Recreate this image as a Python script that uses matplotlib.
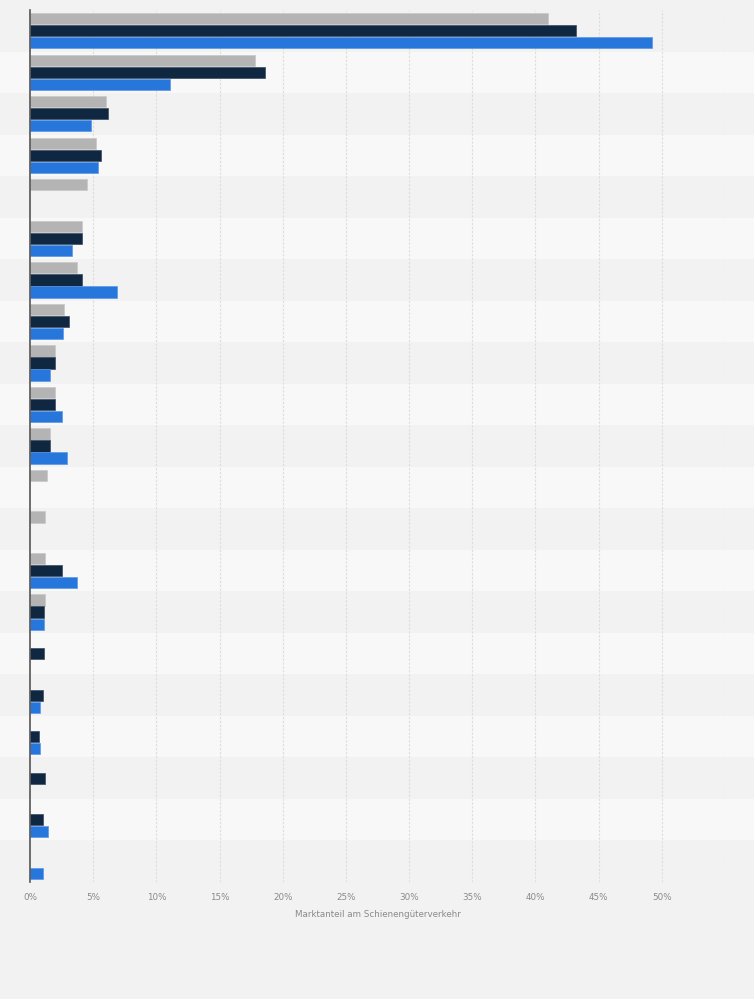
import matplotlib.pyplot as plt
import numpy as np
from matplotlib.patches import Rectangle
from matplotlib.transforms import blended_transform_factory

# Zeilen (keine Beschriftung im Original sichtbar)
rows = list(range(1, 22))

# Marktanteil in %, drei Reihen (nan = kein Wert)
nan = np.nan
series_gray = [41.0, 17.8, 6.05, 5.2, 4.55, 4.1, 3.7, 2.7, 2.0, 2.0, 1.6,
               1.35, 1.2, 1.2, 1.2, nan, nan, nan, nan, nan, nan]
series_navy = [43.2, 18.6, 6.15, 5.6, nan, 4.15, 4.15, 3.1, 2.0, 1.95, 1.6,
               nan, nan, 2.5, 1.1, 1.1, 1.0, 0.75, 1.2, 1.0, nan]
series_blue = [49.2, 11.05, 4.8, 5.4, nan, 3.35, 6.85, 2.65, 1.6, 2.55, 2.95,
               nan, nan, 3.7, 1.1, nan, 0.8, 0.8, nan, 1.45, 1.05]

xticks = list(range(0, 51, 5))
xticklabels = [f"{t}%" for t in xticks]

bg = "#f2f2f2"
fig = plt.figure(figsize=(7.54, 9.99), dpi=100, facecolor=bg)
ax = fig.add_axes([30 / 754, 1 - 882 / 999, 695 / 754, 872 / 999])
ax.set_facecolor("none")

# abwechselnde Zeilenbänder über die ganze Breite
trans = blended_transform_factory(fig.transFigure, ax.transData)
for i in range(len(rows)):
    if i % 2 == 1:
        ax.add_patch(Rectangle((0, i - 0.5), 1, 1, transform=trans,
                               facecolor="#f8f8f8", edgecolor="none",
                               clip_on=False, zorder=0))

y = np.arange(len(rows))
h = 0.27
off = 0.29
ax.barh(y - off, series_gray, height=h, color="#b4b4b4", edgecolor="#c8c8c8", linewidth=0.5, zorder=3)
ax.barh(y, series_navy, height=h, color="#0f2741", edgecolor="#3a4c60", linewidth=0.5, zorder=3)
ax.barh(y + off, series_blue, height=h, color="#2776db", edgecolor="#5a97e6", linewidth=0.5, zorder=3)

ax.set_xlim(0, 55)
ax.set_ylim(len(rows) - 0.5, -0.5)
ax.set_xticks(xticks)
ax.set_xticklabels(xticklabels, fontsize=6.3, color="#8a8a8a")
ax.set_yticks([])
ax.tick_params(axis="x", length=0, pad=8)

for t in xticks[1:] + [55]:
    ax.axvline(t, color="#dddddd", linestyle=(0, (2, 1.5)), linewidth=0.8, zorder=1)

for s in ["top", "right", "bottom"]:
    ax.spines[s].set_visible(False)
ax.spines["left"].set_color("#555555")
ax.spines["left"].set_linewidth(1.2)
ax.spines["left"].set_zorder(4)

ax.set_xlabel("Marktanteil am Schienengüterverkehr", fontsize=6.3, color="#8a8a8a", labelpad=6)

fig.savefig("out.png", dpi=100, facecolor=bg)
